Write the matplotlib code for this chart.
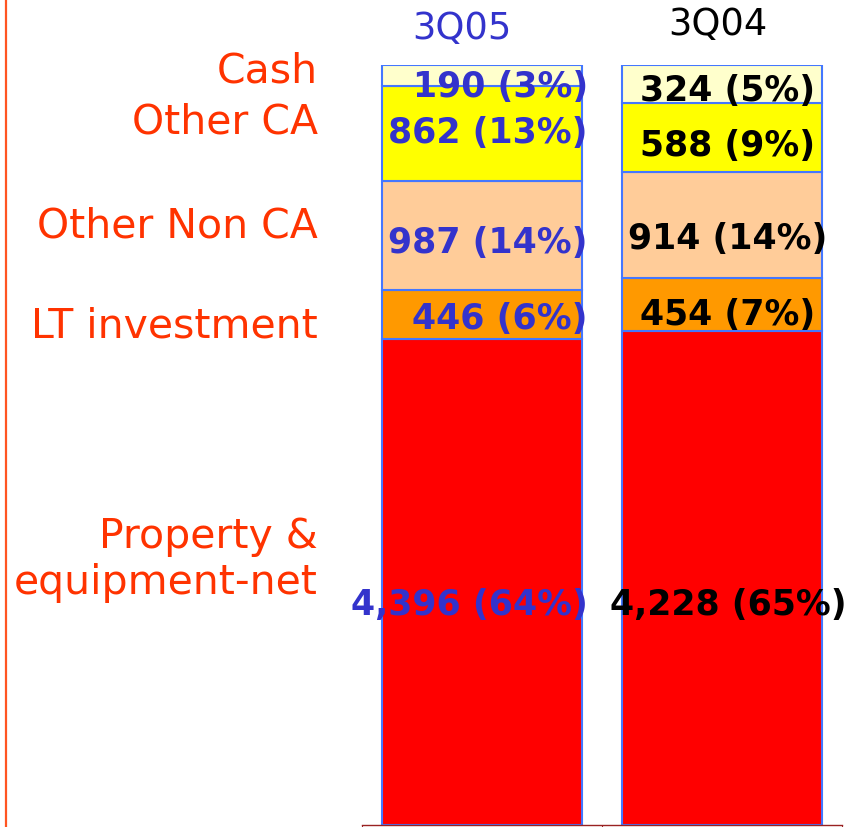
#!/usr/bin/env python3
"""
Asset mix, 3Q05 vs 3Q04, drawn as 100% stacked bars.
"""

import numpy as np
import matplotlib
matplotlib.use("Agg")
import matplotlib.pyplot as plt
from matplotlib.lines import Line2D

# Data (bottom of the stack first)
periods = ["3Q05", "3Q04"]
segments = ["Property &\nequipment-net", "LT investment", "Other Non CA", "Other CA", "Cash"]
values_3q05 = [4396, 446, 987, 862, 190]
values_3q04 = [4228, 454, 914, 588, 324]

# Styling
SEG_COLORS = ["#FF0000", "#FF9900", "#FFCC99", "#FFFF00", "#FFFFCC"]
EDGE_COLOR = "#4477FF"
BLUE_TEXT = "#3333CC"
ORANGE_TEXT = "#FF3300"
PERIOD_COLORS = [BLUE_TEXT, "#000000"]

W_PX, H_PX = 849, 828
DPI = 100

fig = plt.figure(figsize=(W_PX / DPI, H_PX / DPI), dpi=DPI)
fig.patch.set_facecolor("white")

# axes: x from 362px to 842px, y from 66px (top) to 826px (bottom)
ax = fig.add_axes([362 / W_PX, 2 / H_PX, 480 / W_PX, 760 / H_PX])
ax.set_xlim(-0.5, 1.5)
ax.set_ylim(0, 1)

all_values = np.array([values_3q05, values_3q04], dtype=float)
shares = all_values / all_values.sum(axis=1, keepdims=True)
x = np.arange(len(periods))
bar_w = 200 / 240

bottoms = np.zeros(len(periods))
seg_centers = np.zeros_like(shares)
for j, seg in enumerate(segments):
    ax.bar(x, shares[:, j], bar_w, bottom=bottoms, color=SEG_COLORS[j],
           edgecolor=EDGE_COLOR, linewidth=1.5, zorder=2)
    seg_centers[:, j] = bottoms + shares[:, j] / 2
    bottoms += shares[:, j]

# value labels, nudged down a little as in the original slide (pixels)
nudges = [[22, 3, 6, -2, 11], [26, 9, 13, 8, 6]]
for i in range(len(periods)):
    for j in range(len(segments)):
        v = all_values[i, j]
        txt = f"{int(v):,} ({round(shares[i, j] * 100):.0f}%)"
        if i == 0:
            xpos, ha = x[i] + bar_w / 2 + 0.025, "right"
        else:
            xpos, ha = x[i] + 0.025, "center"
        ax.annotate(txt, (xpos, seg_centers[i, j]), xytext=(0, -nudges[i][j]),
                    textcoords="offset pixels", ha=ha, va="center",
                    fontsize=25, fontweight="bold", color=PERIOD_COLORS[i],
                    zorder=3, annotation_clip=False)

# period titles above the bars
title_y_px = [29, 24]
for i, p in enumerate(periods):
    ax.text(x[i] + (-20 if i == 0 else -4) / 240, 1 - (title_y_px[i] - 66) / 760, p,
            ha="center", va="center", fontsize=26.5, color=PERIOD_COLORS[i],
            transform=ax.transData, clip_on=False)

# segment names on the left
name_y_px = [560, 327, 226, 123, 72]
for name, ypx in zip(segments, name_y_px):
    fig.text(318 / W_PX, 1 - ypx / H_PX, name, ha="right", va="center",
             fontsize=29.5, color=ORANGE_TEXT, linespacing=1.2)

# axis cosmetics
for side in ["top", "right", "left"]:
    ax.spines[side].set_visible(False)
ax.spines["bottom"].set_color("#992222")
ax.spines["bottom"].set_linewidth(1.0)
ax.set_yticks([])
ax.set_xticks([-0.5, 0.5, 1.5])
ax.set_xticklabels([])
ax.tick_params(axis="x", direction="out", length=5, color="#992222")
ax.set_facecolor("none")

# thin orange rule at the left edge
fig.add_artist(Line2D([5.5 / W_PX, 5.5 / W_PX], [0, 1], color="#FF5522",
                      linewidth=1.6, transform=fig.transFigure))

fig.savefig("out.png", dpi=DPI)
